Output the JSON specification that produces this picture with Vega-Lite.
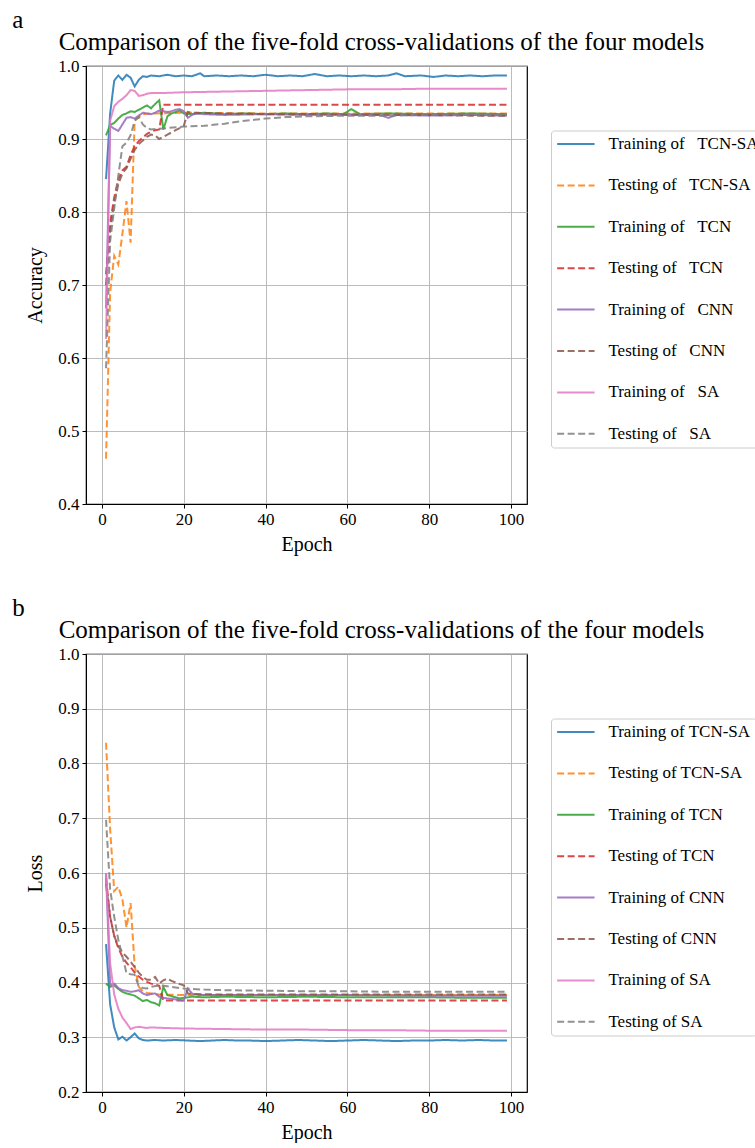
{
 "$schema": "https://vega.github.io/schema/vega-lite/v6.json",
 "background": "white",
 "padding": {"left": 12, "top": 8, "right": 0, "bottom": 0},
 "spacing": 41,
 "config": {
  "font": "Liberation Serif",
  "view": {"stroke": "black", "strokeWidth": 1.2},
  "axis": {"domainColor": "black", "tickColor": "black", "labelColor": "black", "titleColor": "black", "gridColor": "#b4b4b4", "gridWidth": 0.9, "tickSize": 4, "labelFontSize": 17, "titleFontSize": 20, "titleFontWeight": "normal", "labelPadding": 3, "labelFont": "Liberation Serif", "titleFont": "Liberation Serif"},
  "title": {"font": "Liberation Serif", "fontWeight": "normal", "color": "black"},
  "legend": {"orient": "none", "legendX": 465, "legendY": 64.5, "title": null, "symbolType": "M-1,0H3", "symbolSize": 350, "symbolStrokeWidth": 2, "symbolOpacity": 0.85, "labelFontSize": 17, "labelFont": "Liberation Serif", "labelColor": "black", "labelOffset": 31.4, "clipHeight": 17, "rowPadding": 23.4, "strokeColor": "#cccccc", "cornerRadius": 3, "padding": 5, "fillColor": "white", "labelLimit": 300},
  "line": {"strokeWidth": 2, "opacity": 0.85}
 },
 "datasets": {
  "acc": [
   {"s":"A","e":1,"v":0.845},{"s":"A","e":2,"v":0.935},{"s":"A","e":3,"v":0.98},{"s":"A","e":4,"v":0.987},{"s":"A","e":5,"v":0.981},{"s":"A","e":6,"v":0.988},{"s":"A","e":7,"v":0.984},{"s":"A","e":8,"v":0.972},{"s":"A","e":9,"v":0.981},{"s":"A","e":10,"v":0.986},{"s":"A","e":11,"v":0.985},{"s":"A","e":12,"v":0.987},{"s":"A","e":14,"v":0.986},{"s":"A","e":16,"v":0.988},{"s":"A","e":18,"v":0.986},{"s":"A","e":20,"v":0.987},{"s":"A","e":22,"v":0.986},{"s":"A","e":24,"v":0.99},{"s":"A","e":25,"v":0.986},{"s":"A","e":28,"v":0.987},{"s":"A","e":31,"v":0.986},{"s":"A","e":34,"v":0.987},{"s":"A","e":37,"v":0.986},{"s":"A","e":40,"v":0.988},{"s":"A","e":43,"v":0.986},{"s":"A","e":46,"v":0.987},{"s":"A","e":49,"v":0.986},{"s":"A","e":52,"v":0.989},{"s":"A","e":55,"v":0.986},{"s":"A","e":58,"v":0.987},{"s":"A","e":61,"v":0.986},{"s":"A","e":64,"v":0.987},{"s":"A","e":67,"v":0.986},{"s":"A","e":70,"v":0.987},{"s":"A","e":72,"v":0.99},{"s":"A","e":74,"v":0.986},{"s":"A","e":78,"v":0.987},{"s":"A","e":81,"v":0.985},{"s":"A","e":84,"v":0.987},{"s":"A","e":87,"v":0.986},{"s":"A","e":90,"v":0.987},{"s":"A","e":93,"v":0.986},{"s":"A","e":96,"v":0.987},{"s":"A","e":99,"v":0.987},
   {"s":"B","e":1,"v":0.462},{"s":"B","e":2,"v":0.69},{"s":"B","e":3,"v":0.74},{"s":"B","e":4,"v":0.728},{"s":"B","e":5,"v":0.77},{"s":"B","e":6,"v":0.815},{"s":"B","e":7,"v":0.758},{"s":"B","e":8,"v":0.925},{"s":"B","e":9,"v":0.93},{"s":"B","e":10,"v":0.934},{"s":"B","e":12,"v":0.935},{"s":"B","e":20,"v":0.936},{"s":"B","e":40,"v":0.935},{"s":"B","e":60,"v":0.935},{"s":"B","e":80,"v":0.935},{"s":"B","e":99,"v":0.935},
   {"s":"C","e":1,"v":0.905},{"s":"C","e":2,"v":0.919},{"s":"C","e":3,"v":0.922},{"s":"C","e":4,"v":0.928},{"s":"C","e":5,"v":0.933},{"s":"C","e":6,"v":0.935},{"s":"C","e":7,"v":0.938},{"s":"C","e":8,"v":0.937},{"s":"C","e":9,"v":0.94},{"s":"C","e":10,"v":0.943},{"s":"C","e":11,"v":0.946},{"s":"C","e":12,"v":0.942},{"s":"C","e":13,"v":0.948},{"s":"C","e":14,"v":0.953},{"s":"C","e":15,"v":0.913},{"s":"C","e":16,"v":0.931},{"s":"C","e":17,"v":0.935},{"s":"C","e":18,"v":0.937},{"s":"C","e":19,"v":0.939},{"s":"C","e":20,"v":0.935},{"s":"C","e":22,"v":0.934},{"s":"C","e":25,"v":0.936},{"s":"C","e":30,"v":0.934},{"s":"C","e":35,"v":0.935},{"s":"C","e":40,"v":0.934},{"s":"C","e":45,"v":0.935},{"s":"C","e":50,"v":0.934},{"s":"C","e":55,"v":0.935},{"s":"C","e":59,"v":0.934},{"s":"C","e":61,"v":0.941},{"s":"C","e":63,"v":0.934},{"s":"C","e":70,"v":0.935},{"s":"C","e":80,"v":0.934},{"s":"C","e":90,"v":0.935},{"s":"C","e":99,"v":0.934},
   {"s":"D","e":1,"v":0.715},{"s":"D","e":2,"v":0.785},{"s":"D","e":3,"v":0.82},{"s":"D","e":4,"v":0.845},{"s":"D","e":5,"v":0.857},{"s":"D","e":6,"v":0.862},{"s":"D","e":7,"v":0.878},{"s":"D","e":8,"v":0.89},{"s":"D","e":9,"v":0.897},{"s":"D","e":10,"v":0.902},{"s":"D","e":11,"v":0.907},{"s":"D","e":12,"v":0.91},{"s":"D","e":13,"v":0.912},{"s":"D","e":14,"v":0.913},{"s":"D","e":15,"v":0.947},{"s":"D","e":99,"v":0.947},
   {"s":"E","e":1,"v":0.668},{"s":"E","e":2,"v":0.918},{"s":"E","e":3,"v":0.914},{"s":"E","e":4,"v":0.911},{"s":"E","e":5,"v":0.92},{"s":"E","e":6,"v":0.929},{"s":"E","e":7,"v":0.93},{"s":"E","e":8,"v":0.928},{"s":"E","e":9,"v":0.932},{"s":"E","e":10,"v":0.936},{"s":"E","e":11,"v":0.935},{"s":"E","e":12,"v":0.934},{"s":"E","e":13,"v":0.936},{"s":"E","e":14,"v":0.939},{"s":"E","e":15,"v":0.938},{"s":"E","e":16,"v":0.937},{"s":"E","e":17,"v":0.938},{"s":"E","e":18,"v":0.94},{"s":"E","e":19,"v":0.941},{"s":"E","e":20,"v":0.938},{"s":"E","e":21,"v":0.929},{"s":"E","e":22,"v":0.933},{"s":"E","e":23,"v":0.935},{"s":"E","e":25,"v":0.934},{"s":"E","e":30,"v":0.933},{"s":"E","e":40,"v":0.934},{"s":"E","e":50,"v":0.933},{"s":"E","e":60,"v":0.934},{"s":"E","e":68,"v":0.933},{"s":"E","e":70,"v":0.929},{"s":"E","e":72,"v":0.933},{"s":"E","e":80,"v":0.932},{"s":"E","e":90,"v":0.933},{"s":"E","e":99,"v":0.932},
   {"s":"F","e":1,"v":0.7},{"s":"F","e":2,"v":0.775},{"s":"F","e":3,"v":0.812},{"s":"F","e":4,"v":0.838},{"s":"F","e":5,"v":0.853},{"s":"F","e":6,"v":0.86},{"s":"F","e":7,"v":0.873},{"s":"F","e":8,"v":0.885},{"s":"F","e":9,"v":0.893},{"s":"F","e":10,"v":0.898},{"s":"F","e":11,"v":0.903},{"s":"F","e":12,"v":0.906},{"s":"F","e":13,"v":0.905},{"s":"F","e":14,"v":0.9},{"s":"F","e":15,"v":0.903},{"s":"F","e":16,"v":0.906},{"s":"F","e":17,"v":0.909},{"s":"F","e":18,"v":0.912},{"s":"F","e":19,"v":0.915},{"s":"F","e":20,"v":0.918},{"s":"F","e":21,"v":0.937},{"s":"F","e":22,"v":0.936},{"s":"F","e":30,"v":0.935},{"s":"F","e":40,"v":0.934},{"s":"F","e":50,"v":0.934},{"s":"F","e":60,"v":0.933},{"s":"F","e":70,"v":0.933},{"s":"F","e":80,"v":0.933},{"s":"F","e":90,"v":0.932},{"s":"F","e":99,"v":0.932},
   {"s":"G","e":1,"v":0.626},{"s":"G","e":2,"v":0.925},{"s":"G","e":3,"v":0.945},{"s":"G","e":4,"v":0.951},{"s":"G","e":5,"v":0.955},{"s":"G","e":6,"v":0.96},{"s":"G","e":7,"v":0.967},{"s":"G","e":8,"v":0.966},{"s":"G","e":9,"v":0.959},{"s":"G","e":10,"v":0.96},{"s":"G","e":11,"v":0.962},{"s":"G","e":12,"v":0.963},{"s":"G","e":15,"v":0.963},{"s":"G","e":20,"v":0.964},{"s":"G","e":30,"v":0.965},{"s":"G","e":40,"v":0.966},{"s":"G","e":50,"v":0.967},{"s":"G","e":60,"v":0.968},{"s":"G","e":70,"v":0.968},{"s":"G","e":80,"v":0.969},{"s":"G","e":90,"v":0.969},{"s":"G","e":99,"v":0.969},
   {"s":"H","e":1,"v":0.586},{"s":"H","e":2,"v":0.76},{"s":"H","e":3,"v":0.805},{"s":"H","e":4,"v":0.85},{"s":"H","e":5,"v":0.89},{"s":"H","e":6,"v":0.895},{"s":"H","e":7,"v":0.905},{"s":"H","e":8,"v":0.925},{"s":"H","e":9,"v":0.93},{"s":"H","e":10,"v":0.92},{"s":"H","e":11,"v":0.915},{"s":"H","e":12,"v":0.913},{"s":"H","e":14,"v":0.914},{"s":"H","e":16,"v":0.915},{"s":"H","e":20,"v":0.917},{"s":"H","e":25,"v":0.918},{"s":"H","e":30,"v":0.921},{"s":"H","e":35,"v":0.925},{"s":"H","e":40,"v":0.928},{"s":"H","e":45,"v":0.93},{"s":"H","e":50,"v":0.931},{"s":"H","e":60,"v":0.932},{"s":"H","e":70,"v":0.932},{"s":"H","e":80,"v":0.933},{"s":"H","e":99,"v":0.933}
  ],
  "loss": [
   {"s":"A","e":1,"v":0.47},{"s":"A","e":2,"v":0.36},{"s":"A","e":3,"v":0.318},{"s":"A","e":4,"v":0.296},{"s":"A","e":5,"v":0.301},{"s":"A","e":6,"v":0.294},{"s":"A","e":7,"v":0.3},{"s":"A","e":8,"v":0.307},{"s":"A","e":9,"v":0.298},{"s":"A","e":10,"v":0.295},{"s":"A","e":11,"v":0.294},{"s":"A","e":13,"v":0.295},{"s":"A","e":15,"v":0.294},{"s":"A","e":18,"v":0.295},{"s":"A","e":21,"v":0.294},{"s":"A","e":24,"v":0.293},{"s":"A","e":27,"v":0.294},{"s":"A","e":30,"v":0.295},{"s":"A","e":33,"v":0.294},{"s":"A","e":36,"v":0.294},{"s":"A","e":40,"v":0.293},{"s":"A","e":44,"v":0.294},{"s":"A","e":48,"v":0.295},{"s":"A","e":52,"v":0.294},{"s":"A","e":56,"v":0.293},{"s":"A","e":60,"v":0.294},{"s":"A","e":64,"v":0.295},{"s":"A","e":68,"v":0.294},{"s":"A","e":72,"v":0.293},{"s":"A","e":76,"v":0.294},{"s":"A","e":80,"v":0.294},{"s":"A","e":84,"v":0.295},{"s":"A","e":88,"v":0.294},{"s":"A","e":92,"v":0.295},{"s":"A","e":96,"v":0.294},{"s":"A","e":99,"v":0.294},
   {"s":"B","e":1,"v":0.838},{"s":"B","e":2,"v":0.68},{"s":"B","e":3,"v":0.567},{"s":"B","e":4,"v":0.575},{"s":"B","e":5,"v":0.552},{"s":"B","e":6,"v":0.5},{"s":"B","e":7,"v":0.545},{"s":"B","e":8,"v":0.43},{"s":"B","e":9,"v":0.392},{"s":"B","e":10,"v":0.384},{"s":"B","e":11,"v":0.381},{"s":"B","e":12,"v":0.38},{"s":"B","e":14,"v":0.378},{"s":"B","e":20,"v":0.377},{"s":"B","e":40,"v":0.377},{"s":"B","e":60,"v":0.377},{"s":"B","e":80,"v":0.377},{"s":"B","e":99,"v":0.377},
   {"s":"C","e":1,"v":0.398},{"s":"C","e":2,"v":0.392},{"s":"C","e":3,"v":0.395},{"s":"C","e":4,"v":0.388},{"s":"C","e":5,"v":0.383},{"s":"C","e":6,"v":0.38},{"s":"C","e":7,"v":0.378},{"s":"C","e":8,"v":0.376},{"s":"C","e":9,"v":0.371},{"s":"C","e":10,"v":0.366},{"s":"C","e":11,"v":0.368},{"s":"C","e":12,"v":0.364},{"s":"C","e":13,"v":0.362},{"s":"C","e":14,"v":0.358},{"s":"C","e":15,"v":0.392},{"s":"C","e":16,"v":0.377},{"s":"C","e":17,"v":0.375},{"s":"C","e":18,"v":0.373},{"s":"C","e":19,"v":0.371},{"s":"C","e":20,"v":0.372},{"s":"C","e":22,"v":0.374},{"s":"C","e":25,"v":0.373},{"s":"C","e":30,"v":0.374},{"s":"C","e":40,"v":0.373},{"s":"C","e":50,"v":0.374},{"s":"C","e":60,"v":0.373},{"s":"C","e":70,"v":0.373},{"s":"C","e":80,"v":0.373},{"s":"C","e":90,"v":0.372},{"s":"C","e":99,"v":0.372},
   {"s":"D","e":1,"v":0.59},{"s":"D","e":2,"v":0.52},{"s":"D","e":3,"v":0.485},{"s":"D","e":4,"v":0.463},{"s":"D","e":5,"v":0.447},{"s":"D","e":6,"v":0.436},{"s":"D","e":7,"v":0.428},{"s":"D","e":8,"v":0.418},{"s":"D","e":9,"v":0.411},{"s":"D","e":10,"v":0.405},{"s":"D","e":11,"v":0.401},{"s":"D","e":12,"v":0.398},{"s":"D","e":13,"v":0.396},{"s":"D","e":14,"v":0.394},{"s":"D","e":15,"v":0.367},{"s":"D","e":99,"v":0.367},
   {"s":"E","e":1,"v":0.6},{"s":"E","e":2,"v":0.395},{"s":"E","e":3,"v":0.398},{"s":"E","e":4,"v":0.39},{"s":"E","e":5,"v":0.386},{"s":"E","e":6,"v":0.385},{"s":"E","e":7,"v":0.383},{"s":"E","e":8,"v":0.384},{"s":"E","e":9,"v":0.386},{"s":"E","e":10,"v":0.38},{"s":"E","e":11,"v":0.377},{"s":"E","e":12,"v":0.379},{"s":"E","e":13,"v":0.38},{"s":"E","e":14,"v":0.374},{"s":"E","e":15,"v":0.372},{"s":"E","e":16,"v":0.371},{"s":"E","e":17,"v":0.37},{"s":"E","e":18,"v":0.369},{"s":"E","e":19,"v":0.368},{"s":"E","e":20,"v":0.367},{"s":"E","e":21,"v":0.389},{"s":"E","e":22,"v":0.38},{"s":"E","e":23,"v":0.378},{"s":"E","e":25,"v":0.377},{"s":"E","e":40,"v":0.377},{"s":"E","e":60,"v":0.377},{"s":"E","e":80,"v":0.376},{"s":"E","e":99,"v":0.376},
   {"s":"F","e":1,"v":0.58},{"s":"F","e":2,"v":0.52},{"s":"F","e":3,"v":0.485},{"s":"F","e":4,"v":0.466},{"s":"F","e":5,"v":0.455},{"s":"F","e":6,"v":0.447},{"s":"F","e":7,"v":0.438},{"s":"F","e":8,"v":0.428},{"s":"F","e":9,"v":0.418},{"s":"F","e":10,"v":0.41},{"s":"F","e":11,"v":0.405},{"s":"F","e":12,"v":0.405},{"s":"F","e":13,"v":0.41},{"s":"F","e":14,"v":0.398},{"s":"F","e":15,"v":0.404},{"s":"F","e":16,"v":0.407},{"s":"F","e":17,"v":0.403},{"s":"F","e":18,"v":0.4},{"s":"F","e":19,"v":0.397},{"s":"F","e":20,"v":0.395},{"s":"F","e":21,"v":0.38},{"s":"F","e":22,"v":0.379},{"s":"F","e":30,"v":0.378},{"s":"F","e":50,"v":0.378},{"s":"F","e":70,"v":0.378},{"s":"F","e":99,"v":0.378},
   {"s":"G","e":1,"v":0.6},{"s":"G","e":2,"v":0.435},{"s":"G","e":3,"v":0.378},{"s":"G","e":4,"v":0.352},{"s":"G","e":5,"v":0.336},{"s":"G","e":6,"v":0.326},{"s":"G","e":7,"v":0.315},{"s":"G","e":8,"v":0.318},{"s":"G","e":9,"v":0.319},{"s":"G","e":10,"v":0.318},{"s":"G","e":11,"v":0.317},{"s":"G","e":12,"v":0.318},{"s":"G","e":15,"v":0.317},{"s":"G","e":20,"v":0.316},{"s":"G","e":30,"v":0.315},{"s":"G","e":40,"v":0.314},{"s":"G","e":50,"v":0.314},{"s":"G","e":60,"v":0.313},{"s":"G","e":70,"v":0.313},{"s":"G","e":80,"v":0.312},{"s":"G","e":90,"v":0.312},{"s":"G","e":99,"v":0.312},
   {"s":"H","e":1,"v":0.697},{"s":"H","e":2,"v":0.57},{"s":"H","e":3,"v":0.52},{"s":"H","e":4,"v":0.478},{"s":"H","e":5,"v":0.448},{"s":"H","e":6,"v":0.417},{"s":"H","e":7,"v":0.415},{"s":"H","e":8,"v":0.414},{"s":"H","e":9,"v":0.393},{"s":"H","e":10,"v":0.39},{"s":"H","e":11,"v":0.389},{"s":"H","e":12,"v":0.392},{"s":"H","e":14,"v":0.395},{"s":"H","e":16,"v":0.393},{"s":"H","e":18,"v":0.391},{"s":"H","e":20,"v":0.389},{"s":"H","e":25,"v":0.387},{"s":"H","e":30,"v":0.386},{"s":"H","e":40,"v":0.385},{"s":"H","e":50,"v":0.384},{"s":"H","e":60,"v":0.384},{"s":"H","e":70,"v":0.383},{"s":"H","e":80,"v":0.383},{"s":"H","e":99,"v":0.383}
  ]
 },
 "vconcat": [
  {
   "title": {"text": "a", "anchor": "start", "fontSize": 25, "offset": -4.5, "dx": -13},
   "resolve": {"legend": {"color": "independent", "strokeDash": "independent"}},
   "vconcat": [
    {
     "data": {"name": "acc"},
     "width": 441, "height": 438,
     "title": {"text": "Comparison of the five-fold cross-validations of the four models", "fontSize": 25, "anchor": "middle", "frame": "group", "dx": 75, "offset": 2.5},
     "mark": {"type": "line", "clip": true},
     "encoding": {
      "x": {"field": "e", "type": "quantitative", "scale": {"domain": [-3.9, 103.9], "nice": false, "zero": false}, "axis": {"values": [0, 20, 40, 60, 80, 100], "title": "Epoch", "titlePadding": 7}},
      "y": {"field": "v", "type": "quantitative", "scale": {"domain": [0.4, 1.0], "nice": false, "zero": false}, "axis": {"values": [0.4, 0.5, 0.6, 0.7, 0.8, 0.9, 1.0], "format": ".1f", "title": "Accuracy", "titlePadding": 12}},
      "color": {"field": "s", "type": "nominal", "scale": {"domain": ["A","B","C","D","E","F","G","H"], "range": ["#1f77b4","#ff7f0e","#2ca02c","#d62728","#9467bd","#8c564b","#e377c2","#7f7f7f"]}, "legend": {"labelExpr": "{'A':'Training of\u00a0\u00a0 TCN-SA','B':'Testing of\u00a0\u00a0 TCN-SA','C':'Training of\u00a0\u00a0 TCN','D':'Testing of\u00a0\u00a0 TCN','E':'Training of\u00a0\u00a0 CNN','F':'Testing of\u00a0\u00a0 CNN','G':'Training of\u00a0\u00a0 SA','H':'Testing of\u00a0\u00a0 SA'}[datum.value]"}},
      "strokeDash": {"field": "s", "type": "nominal", "scale": {"domain": ["A","B","C","D","E","F","G","H"], "range": [[1,0],[7,3.5],[1,0],[7,3.5],[1,0],[7,3.5],[1,0],[7,3.5]]}, "legend": {"labelExpr": "{'A':'Training of\u00a0\u00a0 TCN-SA','B':'Testing of\u00a0\u00a0 TCN-SA','C':'Training of\u00a0\u00a0 TCN','D':'Testing of\u00a0\u00a0 TCN','E':'Training of\u00a0\u00a0 CNN','F':'Testing of\u00a0\u00a0 CNN','G':'Training of\u00a0\u00a0 SA','H':'Testing of\u00a0\u00a0 SA'}[datum.value]"}}
     }
    }
   ]
  },
  {
   "title": {"text": "b", "anchor": "start", "fontSize": 25, "offset": -4.5, "dx": -13},
   "resolve": {"legend": {"color": "independent", "strokeDash": "independent"}},
   "vconcat": [
    {
     "data": {"name": "loss"},
     "width": 441, "height": 438,
     "title": {"text": "Comparison of the five-fold cross-validations of the four models", "fontSize": 25, "anchor": "middle", "frame": "group", "dx": 75, "offset": 2.5},
     "mark": {"type": "line", "clip": true},
     "encoding": {
      "x": {"field": "e", "type": "quantitative", "scale": {"domain": [-3.9, 103.9], "nice": false, "zero": false}, "axis": {"values": [0, 20, 40, 60, 80, 100], "title": "Epoch", "titlePadding": 7}},
      "y": {"field": "v", "type": "quantitative", "scale": {"domain": [0.2, 1.0], "nice": false, "zero": false}, "axis": {"values": [0.2, 0.3, 0.4, 0.5, 0.6, 0.7, 0.8, 0.9, 1.0], "format": ".1f", "title": "Loss", "titlePadding": 12}},
      "color": {"field": "s", "type": "nominal", "scale": {"domain": ["A","B","C","D","E","F","G","H"], "range": ["#1f77b4","#ff7f0e","#2ca02c","#d62728","#9467bd","#8c564b","#e377c2","#7f7f7f"]}, "legend": {"labelExpr": "{'A':'Training of TCN-SA','B':'Testing of TCN-SA','C':'Training of TCN','D':'Testing of TCN','E':'Training of CNN','F':'Testing of CNN','G':'Training of SA','H':'Testing of SA'}[datum.value]"}},
      "strokeDash": {"field": "s", "type": "nominal", "scale": {"domain": ["A","B","C","D","E","F","G","H"], "range": [[1,0],[7,3.5],[1,0],[7,3.5],[1,0],[7,3.5],[1,0],[7,3.5]]}, "legend": {"labelExpr": "{'A':'Training of TCN-SA','B':'Testing of TCN-SA','C':'Training of TCN','D':'Testing of TCN','E':'Training of CNN','F':'Testing of CNN','G':'Training of SA','H':'Testing of SA'}[datum.value]"}}
     }
    }
   ]
  }
 ],
 "resolve": {"legend": {"color": "independent", "strokeDash": "independent"}}
}
